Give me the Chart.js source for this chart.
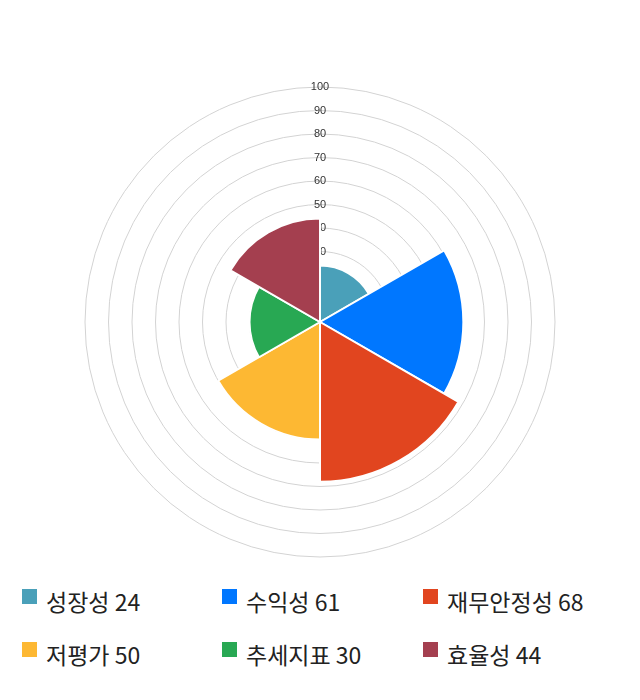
<!DOCTYPE html>
<html>
<head>
<meta charset="utf-8">
<script src="https://cdn.jsdelivr.net/npm/chart.js@4"></script>
<style>
  body { margin: 0; background: #fff; width: 640px; height: 700px; position: relative; font-family: "Noto Sans CJK KR", "Noto Sans", sans-serif; }
  #wrap { position: absolute; left: 0; top: 79px; width: 640px; height: 486px; }
  #legend { position: absolute; left: 0; top: 586px; width: 640px; }
  .item { position: absolute; font-size: 23px; color: #222; line-height: 30px; white-space: nowrap; }
  .item i { position: absolute; left: -24px; top: 3px; width: 15px; height: 15px; }
</style>
</head>
<body>
<div id="wrap"><canvas id="polar-chart_"></canvas></div>
<div id="legend"></div>
<script>
const labels = ['성장성', '수익성', '재무안정성', '저평가', '추세지표', '효율성'];
const scores = [24, 61, 68, 50, 30, 44];
const colors = ['#4aa0b9', '#0077ff', '#e1451f', '#fdb833', '#28a853', '#a43f4f'];

const ctx = document.getElementById('polar-chart_');
new Chart(ctx, {
    type: 'polarArea',
    data: {
        labels: labels,
        datasets: [
            {
                data: scores,
                backgroundColor: colors,
                borderColor: '#fff',
                borderWidth: 2,
            },
        ]
    },
    options: {
        responsive: true,
        maintainAspectRatio: false,
        animation: false,
        scales: {
            r: {
                min: 0,
                max: 100,
                ticks: {
                    stepSize: 10,
                    showLabelBackdrop: false,
                    color: '#333',
                    font: { size: 11, family: 'Liberation Sans' },
                    z: 0
                },
                grid: {
                    color: '#d3d3d3'
                },
                angleLines: { display: false },
                pointLabels: { display: false }
            }
        },
        plugins: {
            legend: { display: false },
            tooltip: { enabled: false }
        }
    }
});

// legend in 3 columns
const cols = [46, 246, 447];
const rows = [0, 53];
const legend = document.getElementById('legend');
labels.forEach((name, i) => {
    const d = document.createElement('div');
    d.className = 'item';
    d.style.left = cols[i % 3] + 'px';
    d.style.top = rows[Math.floor(i / 3)] + 'px';
    d.innerHTML = '<i style="background:' + colors[i] + '"></i>' + name + ' ' + scores[i];
    legend.appendChild(d);
});
</script>
</body>
</html>
